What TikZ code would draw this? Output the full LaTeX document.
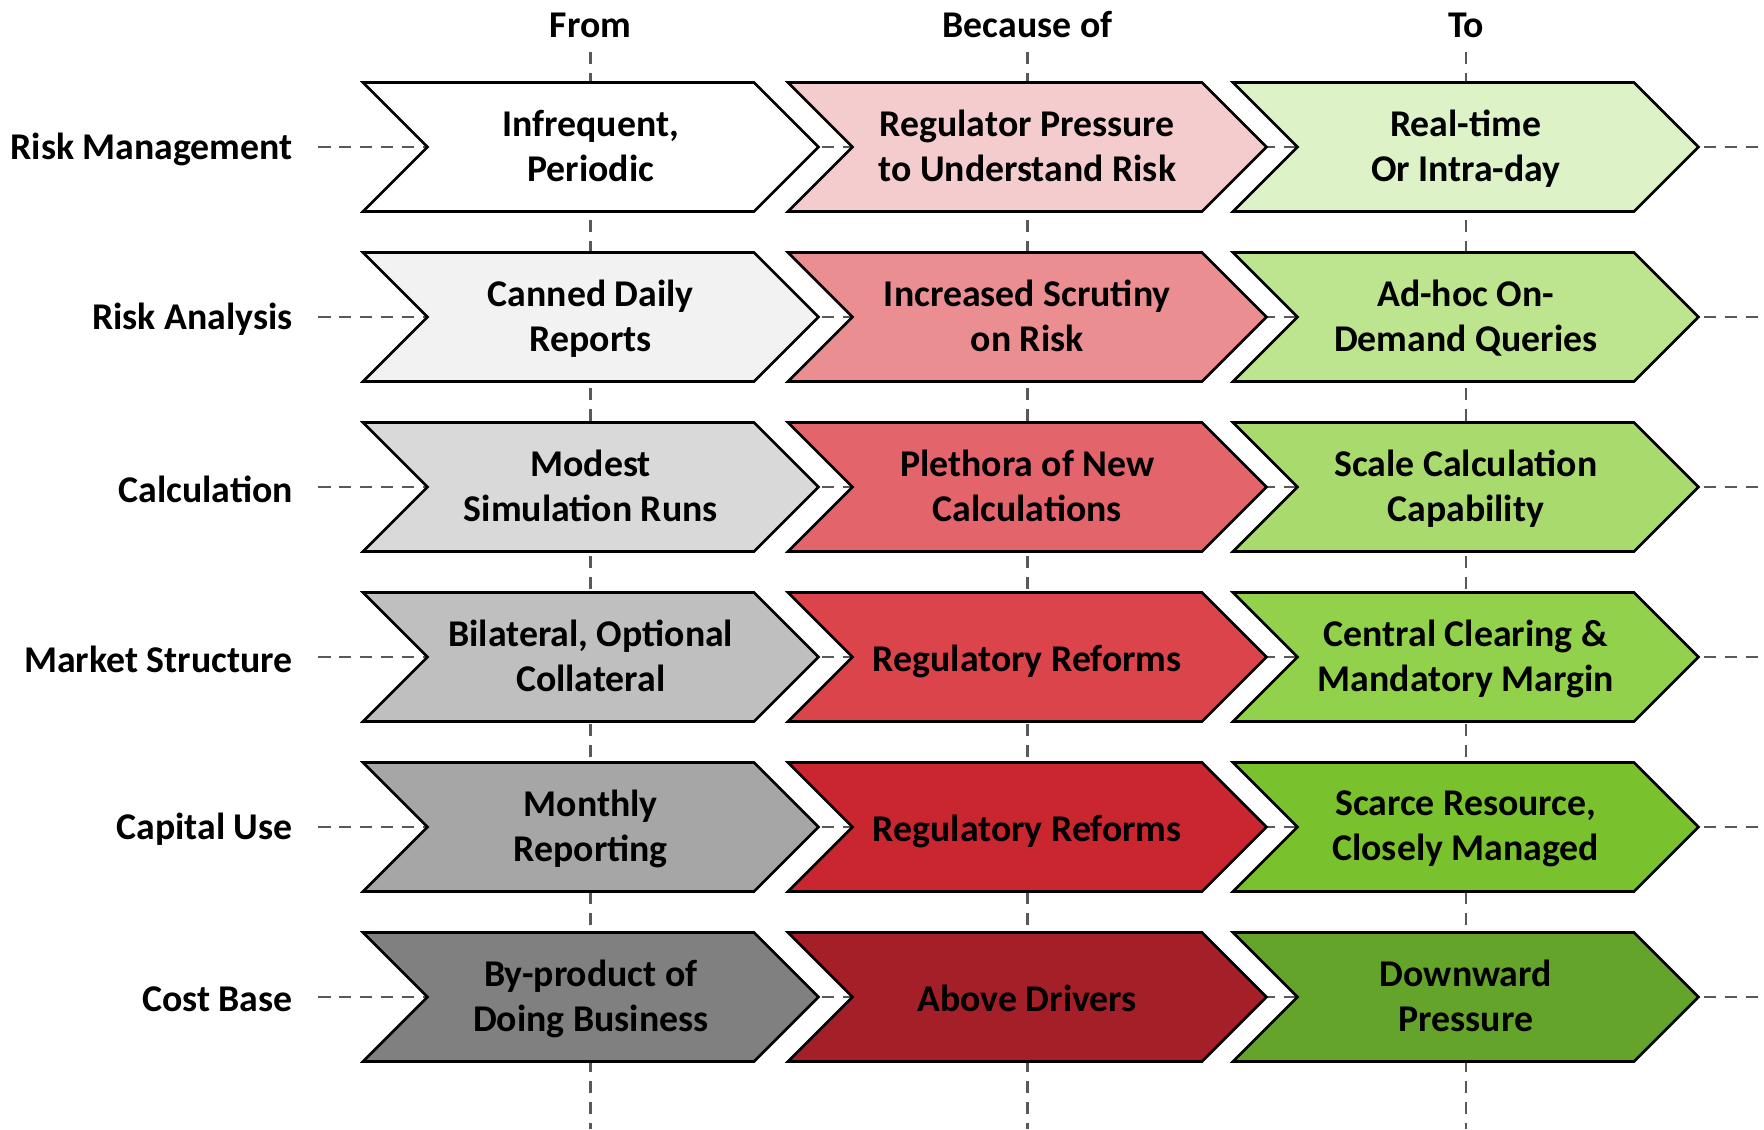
\documentclass[tikz,border=0pt]{standalone}
\usepackage{fontspec}
\setmainfont{Carlito}

\definecolor{fromA}{HTML}{FFFFFF}
\definecolor{fromB}{HTML}{F2F2F2}
\definecolor{fromC}{HTML}{D9D9D9}
\definecolor{fromD}{HTML}{BFBFBF}
\definecolor{fromE}{HTML}{A6A6A6}
\definecolor{fromF}{HTML}{808080}
\definecolor{causeA}{HTML}{F5CCCE}
\definecolor{causeB}{HTML}{EA8E92}
\definecolor{causeC}{HTML}{E3656B}
\definecolor{causeD}{HTML}{DB444B}
\definecolor{causeE}{HTML}{C92630}
\definecolor{causeF}{HTML}{A51F28}
\definecolor{toA}{HTML}{DDF2C7}
\definecolor{toB}{HTML}{BDE48F}
\definecolor{toC}{HTML}{A9DA6E}
\definecolor{toD}{HTML}{91D14B}
\definecolor{toE}{HTML}{7AC12E}
\definecolor{toF}{HTML}{65A42B}
\definecolor{lanegray}{HTML}{595959}

\tikzset{
  chev/.style={draw=black, line width=1.5pt, line join=miter},
  lane/.style={draw=lanegray, line width=1.4pt, dash pattern=on 0.25cm off 0.17cm},
  cell/.style={align=center, inner sep=0pt, yshift=-3pt, font=\bfseries\fontsize{21.5}{25.6}\selectfont,
    execute at begin node=\strut, execute at end node=\strut},
  rowlabel/.style={anchor=east, inner xsep=0.5cm, yshift=-1.5pt, font=\bfseries\fontsize{21.5}{25.6}\selectfont},
  head/.style={font=\bfseries\fontsize{21.5}{25.6}\selectfont}
}

% name, left x, top-right x, mid y, fill, text
\newcommand{\chevron}[6]{%
  \draw[chev, fill=#5] (#2,#4-64.5) -- (#3,#4-64.5) -- (#3+64.5,#4) -- (#3,#4+64.5)
    -- (#2,#4+64.5) -- (#2+64.5,#4) -- cycle;
  \coordinate (#1-in) at (#2+64.5,#4);
  \coordinate (#1-out) at (#3+64.5,#4);
  \node[cell] (#1) at ({(#2+#3+64.5)/2},#4) {#6};
}

\begin{document}
\begin{tikzpicture}[x=0.02cm, y=-0.02cm]
\useasboundingbox (0,0) rectangle (1764,1129);

% column heads and lanes
\node[head] (from) at (590.5,25) {From};
\node[head] (cause) at (1027.5,25) {Because of};
\node[head] (to) at (1466,25) {To};
\coordinate (from-end) at (590.5,1129);
\coordinate (cause-end) at (1027.5,1129);
\coordinate (to-end) at (1466,1129);
\draw[lane] (590.5,52) -- (from-end);
\draw[lane] (1027.5,52) -- (cause-end);
\draw[lane] (1466,52) -- (to-end);

% row labels
\node[rowlabel] (rm) at (318,147) {Risk Management};
\node[rowlabel] (ra) at (318,317) {Risk Analysis};
\node[rowlabel] (calc) at (318,487) {Calculation};
\node[rowlabel] (ms) at (318,657) {Market Structure};
\node[rowlabel] (cu) at (318,827) {Capital Use};
\node[rowlabel] (cb) at (318,997) {Cost Base};

% row lanes (behind the chevrons)
\foreach \r/\y in {rm/147, ra/317, calc/487, ms/657, cu/827, cb/997}{
  \coordinate (\r-start) at (318,\y);
  \coordinate (\r-end) at (1764,\y);
  \draw[lane] (\r-start) -- (\r-end);
}

% chevrons
\chevron{rm-from}{363}{754}{147}{fromA}{Infrequent,\\Periodic}
\chevron{rm-cause}{788}{1202}{147}{causeA}{Regulator Pressure\\to Understand Risk}
\chevron{rm-to}{1233}{1634}{147}{toA}{Real-time\\Or Intra-day}

\chevron{ra-from}{363}{754}{317}{fromB}{Canned Daily\\Reports}
\chevron{ra-cause}{788}{1202}{317}{causeB}{Increased Scrutiny\\on Risk}
\chevron{ra-to}{1233}{1634}{317}{toB}{Ad-hoc On-\\Demand Queries}

\chevron{calc-from}{363}{754}{487}{fromC}{Modest\\Simulation Runs}
\chevron{calc-cause}{788}{1202}{487}{causeC}{Plethora of New\\Calculations}
\chevron{calc-to}{1233}{1634}{487}{toC}{Scale Calculation\\Capability}

\chevron{ms-from}{363}{754}{657}{fromD}{Bilateral, Optional\\Collateral}
\chevron{ms-cause}{788}{1202}{657}{causeD}{Regulatory Reforms}
\chevron{ms-to}{1233}{1634}{657}{toD}{Central Clearing \&\\Mandatory Margin}

\chevron{cu-from}{363}{754}{827}{fromE}{Monthly\\Reporting}
\chevron{cu-cause}{788}{1202}{827}{causeE}{Regulatory Reforms}
\chevron{cu-to}{1233}{1634}{827}{toE}{Scarce Resource,\\Closely Managed}

\chevron{cb-from}{363}{754}{997}{fromF}{By-product of\\Doing Business}
\chevron{cb-cause}{788}{1202}{997}{causeF}{Above Drivers}
\chevron{cb-to}{1233}{1634}{997}{toF}{Downward\\Pressure}
\end{tikzpicture}
\end{document}
